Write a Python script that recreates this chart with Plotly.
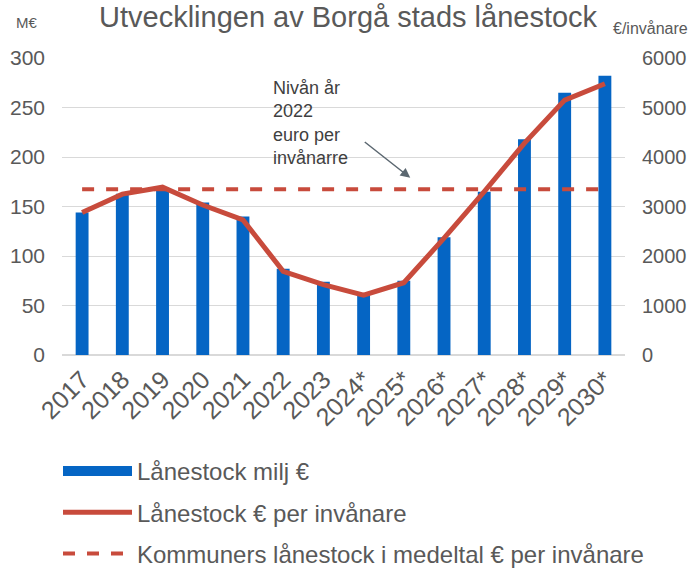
import plotly.graph_objects as go

years = ["2017", "2018", "2019", "2020", "2021", "2022", "2023",
         "2024*", "2025*", "2026*", "2027*", "2028*", "2029*", "2030*"]
loan_meur = [144, 163, 169, 154, 140, 87, 74, 61, 75, 119, 165, 218, 265, 282]
loan_per_capita = [2880, 3250, 3390, 3030, 2730, 1690, 1420, 1210, 1460, 2360, 3300, 4280, 5150, 5480]
avg_per_capita = [3350] * len(years)

BLUE = "#0565C4"
RED = "#C84B3C"
GREY = "#595959"
GRID = "#D9D9D9"
FONT = "Liberation Sans, Arial, sans-serif"

fig = go.Figure()
fig.add_trace(go.Bar(x=years, y=loan_meur, name="Lånestock milj €",
                     marker=dict(color=BLUE, line=dict(width=0)), width=0.32,
                     showlegend=False))
# legend entry for the bars (wide rectangle swatch as in the reference)
fig.add_trace(go.Scatter(x=[None], y=[None], name="Lånestock milj €",
                         mode="lines", line=dict(color=BLUE, width=12),
                         legendgroup="a"))
fig.add_trace(go.Scatter(x=years, y=loan_per_capita, name="Lånestock € per invånare",
                         mode="lines", line=dict(color=RED, width=5),
                         yaxis="y2", legendgroup="b"))
fig.add_trace(go.Scatter(x=years, y=avg_per_capita,
                         name="Kommuners lånestock i medeltal € per invånare",
                         mode="lines", line=dict(color=RED, width=4, dash="dash"),
                         yaxis="y2", legendgroup="c"))

fig.update_layout(
    width=693, height=568,
    margin=dict(l=62, r=68, t=58, b=213, autoexpand=False),
    paper_bgcolor="white", plot_bgcolor="white",
    font=dict(family=FONT, color=GREY, size=18),
    xaxis=dict(type="category", tickangle=-45, tickfont=dict(size=25, color=GREY),
               showgrid=False, showline=False, ticks="", automargin=False,
               ticklabelstandoff=4),
    yaxis=dict(range=[0, 300], dtick=50, showgrid=True, gridcolor=GRID, gridwidth=1,
               zeroline=True, zerolinecolor=GRID, zerolinewidth=1.5,
               tickfont=dict(size=21, color=GREY), ticks="", ticklabelstandoff=16,
               automargin=False),
    yaxis2=dict(range=[0, 6000], dtick=1000, overlaying="y", side="right",
                showgrid=False, zeroline=False,
                tickfont=dict(size=20, color=GREY), ticks="", ticklabelstandoff=16,
                automargin=False),
    legend=dict(orientation="v", xref="container", yref="container",
                x=58 / 693, xanchor="left", y=1 - 449 / 568, yanchor="top",
                font=dict(size=24, color=GREY), tracegroupgap=7,
                bgcolor="rgba(0,0,0,0)", itemwidth=69),
    showlegend=True,
)

fig.add_annotation(text="Utvecklingen av Borgå stads lånestock",
                   xref="paper", yref="paper", x=(348 - 62) / 563, y=(355 - 17) / 297,
                   xanchor="center", yanchor="middle", showarrow=False,
                   font=dict(size=29, color=GREY))
fig.add_annotation(text="M€", xref="paper", yref="paper",
                   x=(14 - 62) / 563, y=(355 - 23) / 297, xanchor="left", yanchor="middle",
                   showarrow=False, font=dict(size=15, color=GREY))
fig.add_annotation(text="€/invånare", xref="paper", yref="paper",
                   x=(690 - 62) / 563, y=(355 - 28) / 297, xanchor="right", yanchor="middle",
                   showarrow=False, font=dict(size=16, color=GREY))
fig.add_annotation(text="Nivån år<br>2022<br>euro per<br>invånarre",
                   xref="paper", yref="y", x=(271 - 62) / 563, y=282,
                   xanchor="left", yanchor="top", align="left", showarrow=False,
                   font=dict(size=18, color="#404040"))
fig.add_annotation(text="", xref="x", yref="y", x=8.16, y=179,
                   ax=-47, ay=-37, showarrow=True, arrowhead=2, arrowsize=1.3,
                   arrowwidth=1.5, arrowcolor="#5B6770")

fig.write_html("out.html", config={"displayModeBar": False},
               post_script="document.body.style.margin='0';document.body.style.overflow='hidden';")
